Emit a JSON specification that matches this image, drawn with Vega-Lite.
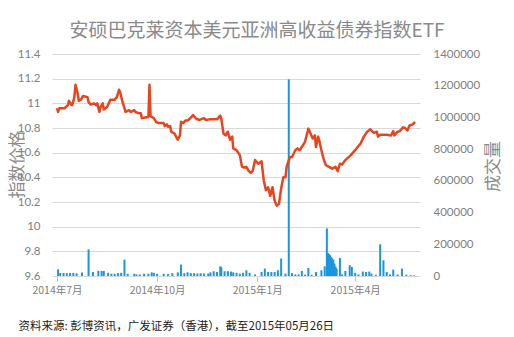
{
  "$schema": "https://vega.github.io/schema/vega-lite/v6.json",
  "width": 368,
  "height": 222,
  "autosize": {"type": "none"},
  "padding": {"left": 52, "top": 54, "right": 94, "bottom": 61},
  "background": "white",
  "config": {"view": {"stroke": null}},
  "title": {
    "text": "安硕巴克莱资本美元亚洲高收益债券指数ETF",
    "font": "Noto Sans CJK SC",
    "fontSize": 19,
    "fontWeight": "normal",
    "color": "#8a8a8a",
    "anchor": "middle",
    "baseline": "middle",
    "offset": -2,
    "dx": 21
  },
  "datasets": {
    "price": [
      {"date": "2014-07-01", "price": 10.96}, {"date": "2014-07-02", "price": 10.93}, {"date": "2014-07-03", "price": 10.96},
      {"date": "2014-07-08", "price": 10.96}, {"date": "2014-07-11", "price": 10.985}, {"date": "2014-07-12", "price": 11.02},
      {"date": "2014-07-14", "price": 10.99}, {"date": "2014-07-15", "price": 10.985}, {"date": "2014-07-17", "price": 11.05},
      {"date": "2014-07-18", "price": 11.15}, {"date": "2014-07-20", "price": 11.08}, {"date": "2014-07-21", "price": 11.02},
      {"date": "2014-07-23", "price": 11.03}, {"date": "2014-07-25", "price": 11.06}, {"date": "2014-07-29", "price": 11.05},
      {"date": "2014-07-30", "price": 11.01}, {"date": "2014-08-01", "price": 10.99}, {"date": "2014-08-04", "price": 11.0},
      {"date": "2014-08-06", "price": 10.985}, {"date": "2014-08-07", "price": 11.0}, {"date": "2014-08-09", "price": 10.93},
      {"date": "2014-08-10", "price": 10.97}, {"date": "2014-08-12", "price": 11.0}, {"date": "2014-08-13", "price": 10.95},
      {"date": "2014-08-16", "price": 10.97}, {"date": "2014-08-19", "price": 11.03}, {"date": "2014-08-23", "price": 11.03},
      {"date": "2014-08-25", "price": 11.05}, {"date": "2014-08-27", "price": 11.11}, {"date": "2014-08-28", "price": 11.09},
      {"date": "2014-08-30", "price": 11.02}, {"date": "2014-09-01", "price": 10.96}, {"date": "2014-09-02", "price": 10.93},
      {"date": "2014-09-05", "price": 10.945}, {"date": "2014-09-07", "price": 10.93}, {"date": "2014-09-10", "price": 10.945},
      {"date": "2014-09-11", "price": 10.93}, {"date": "2014-09-14", "price": 10.92}, {"date": "2014-09-16", "price": 10.92},
      {"date": "2014-09-17", "price": 10.88}, {"date": "2014-09-20", "price": 10.885}, {"date": "2014-09-23", "price": 10.89},
      {"date": "2014-09-24", "price": 11.15}, {"date": "2014-09-25", "price": 10.895}, {"date": "2014-09-28", "price": 10.88},
      {"date": "2014-09-30", "price": 10.85}, {"date": "2014-10-02", "price": 10.84}, {"date": "2014-10-07", "price": 10.84},
      {"date": "2014-10-08", "price": 10.815}, {"date": "2014-10-10", "price": 10.83}, {"date": "2014-10-11", "price": 10.81},
      {"date": "2014-10-13", "price": 10.815}, {"date": "2014-10-14", "price": 10.77}, {"date": "2014-10-17", "price": 10.755},
      {"date": "2014-10-19", "price": 10.72}, {"date": "2014-10-20", "price": 10.705}, {"date": "2014-10-22", "price": 10.74},
      {"date": "2014-10-23", "price": 10.85}, {"date": "2014-10-25", "price": 10.84}, {"date": "2014-10-27", "price": 10.86},
      {"date": "2014-10-29", "price": 10.86}, {"date": "2014-10-31", "price": 10.875}, {"date": "2014-11-03", "price": 10.905},
      {"date": "2014-11-06", "price": 10.875}, {"date": "2014-11-09", "price": 10.865}, {"date": "2014-11-10", "price": 10.87},
      {"date": "2014-11-13", "price": 10.88}, {"date": "2014-11-15", "price": 10.865}, {"date": "2014-11-18", "price": 10.87},
      {"date": "2014-11-25", "price": 10.87}, {"date": "2014-11-28", "price": 10.9}, {"date": "2014-11-29", "price": 10.875},
      {"date": "2014-12-01", "price": 10.755}, {"date": "2014-12-03", "price": 10.74}, {"date": "2014-12-05", "price": 10.77},
      {"date": "2014-12-07", "price": 10.705}, {"date": "2014-12-09", "price": 10.73}, {"date": "2014-12-10", "price": 10.635},
      {"date": "2014-12-13", "price": 10.62}, {"date": "2014-12-16", "price": 10.58}, {"date": "2014-12-18", "price": 10.485},
      {"date": "2014-12-20", "price": 10.48}, {"date": "2014-12-22", "price": 10.485}, {"date": "2014-12-24", "price": 10.455},
      {"date": "2014-12-26", "price": 10.435}, {"date": "2014-12-28", "price": 10.455}, {"date": "2014-12-30", "price": 10.54},
      {"date": "2015-01-02", "price": 10.51}, {"date": "2015-01-05", "price": 10.53}, {"date": "2015-01-07", "price": 10.375},
      {"date": "2015-01-09", "price": 10.295}, {"date": "2015-01-11", "price": 10.32}, {"date": "2015-01-13", "price": 10.25},
      {"date": "2015-01-15", "price": 10.32}, {"date": "2015-01-17", "price": 10.21}, {"date": "2015-01-19", "price": 10.17},
      {"date": "2015-01-21", "price": 10.185}, {"date": "2015-01-23", "price": 10.31}, {"date": "2015-01-25", "price": 10.4},
      {"date": "2015-01-27", "price": 10.4}, {"date": "2015-01-28", "price": 10.485}, {"date": "2015-01-31", "price": 10.565},
      {"date": "2015-02-02", "price": 10.565}, {"date": "2015-02-05", "price": 10.62}, {"date": "2015-02-07", "price": 10.635},
      {"date": "2015-02-09", "price": 10.62}, {"date": "2015-02-12", "price": 10.66}, {"date": "2015-02-14", "price": 10.69},
      {"date": "2015-02-17", "price": 10.795}, {"date": "2015-02-19", "price": 10.755}, {"date": "2015-02-21", "price": 10.715},
      {"date": "2015-02-23", "price": 10.74}, {"date": "2015-02-24", "price": 10.645}, {"date": "2015-02-26", "price": 10.73},
      {"date": "2015-02-27", "price": 10.7}, {"date": "2015-03-01", "price": 10.62}, {"date": "2015-03-03", "price": 10.55},
      {"date": "2015-03-05", "price": 10.5}, {"date": "2015-03-08", "price": 10.485}, {"date": "2015-03-11", "price": 10.47},
      {"date": "2015-03-14", "price": 10.485}, {"date": "2015-03-16", "price": 10.45}, {"date": "2015-03-18", "price": 10.51},
      {"date": "2015-03-20", "price": 10.505}, {"date": "2015-03-23", "price": 10.54}, {"date": "2015-03-28", "price": 10.58},
      {"date": "2015-04-01", "price": 10.62}, {"date": "2015-04-06", "price": 10.675}, {"date": "2015-04-09", "price": 10.73},
      {"date": "2015-04-12", "price": 10.77}, {"date": "2015-04-15", "price": 10.79}, {"date": "2015-04-18", "price": 10.76},
      {"date": "2015-04-21", "price": 10.77}, {"date": "2015-04-22", "price": 10.73}, {"date": "2015-04-24", "price": 10.745},
      {"date": "2015-04-30", "price": 10.745}, {"date": "2015-05-04", "price": 10.74}, {"date": "2015-05-06", "price": 10.775},
      {"date": "2015-05-07", "price": 10.74}, {"date": "2015-05-10", "price": 10.77}, {"date": "2015-05-12", "price": 10.775},
      {"date": "2015-05-15", "price": 10.805}, {"date": "2015-05-17", "price": 10.8}, {"date": "2015-05-19", "price": 10.78},
      {"date": "2015-05-21", "price": 10.82}, {"date": "2015-05-24", "price": 10.83}, {"date": "2015-05-26", "price": 10.85}
    ],
    "volume": [
      {"date": "2014-07-02", "volume": 42000}, {"date": "2014-07-04", "volume": 19000}, {"date": "2014-07-07", "volume": 19000},
      {"date": "2014-07-10", "volume": 18000}, {"date": "2014-07-13", "volume": 19000}, {"date": "2014-07-16", "volume": 20000},
      {"date": "2014-07-19", "volume": 17000}, {"date": "2014-07-24", "volume": 22000}, {"date": "2014-07-30", "volume": 168000},
      {"date": "2014-08-03", "volume": 25000}, {"date": "2014-08-08", "volume": 32000}, {"date": "2014-08-11", "volume": 32000},
      {"date": "2014-08-13", "volume": 32000}, {"date": "2014-08-17", "volume": 20000}, {"date": "2014-08-20", "volume": 14000},
      {"date": "2014-08-23", "volume": 14000}, {"date": "2014-08-26", "volume": 18000}, {"date": "2014-08-29", "volume": 20000},
      {"date": "2014-09-01", "volume": 103000}, {"date": "2014-09-04", "volume": 14000}, {"date": "2014-09-10", "volume": 14000},
      {"date": "2014-09-12", "volume": 10000}, {"date": "2014-09-15", "volume": 10000}, {"date": "2014-09-19", "volume": 14000},
      {"date": "2014-09-23", "volume": 14000}, {"date": "2014-09-26", "volume": 23000}, {"date": "2014-09-28", "volume": 20000},
      {"date": "2014-10-01", "volume": 14000}, {"date": "2014-10-07", "volume": 14000}, {"date": "2014-10-11", "volume": 12000},
      {"date": "2014-10-15", "volume": 18000}, {"date": "2014-10-20", "volume": 23000}, {"date": "2014-10-23", "volume": 72000},
      {"date": "2014-10-26", "volume": 18000}, {"date": "2014-10-29", "volume": 23000}, {"date": "2014-11-01", "volume": 18000},
      {"date": "2014-11-04", "volume": 18000}, {"date": "2014-11-07", "volume": 16000}, {"date": "2014-11-10", "volume": 18000},
      {"date": "2014-11-13", "volume": 16000}, {"date": "2014-11-17", "volume": 16000}, {"date": "2014-11-19", "volume": 23000},
      {"date": "2014-11-22", "volume": 30000}, {"date": "2014-11-25", "volume": 25000}, {"date": "2014-11-28", "volume": 61000},
      {"date": "2014-11-29", "volume": 55000}, {"date": "2014-12-02", "volume": 30000}, {"date": "2014-12-05", "volume": 30000},
      {"date": "2014-12-08", "volume": 28000}, {"date": "2014-12-10", "volume": 23000}, {"date": "2014-12-13", "volume": 20000},
      {"date": "2014-12-16", "volume": 15000}, {"date": "2014-12-19", "volume": 20000}, {"date": "2014-12-22", "volume": 36000},
      {"date": "2014-12-25", "volume": 20000}, {"date": "2014-12-30", "volume": 10000}, {"date": "2015-01-05", "volume": 25000},
      {"date": "2015-01-08", "volume": 47000}, {"date": "2015-01-11", "volume": 25000}, {"date": "2015-01-14", "volume": 25000},
      {"date": "2015-01-17", "volume": 25000}, {"date": "2015-01-20", "volume": 36000}, {"date": "2015-01-23", "volume": 110000},
      {"date": "2015-01-27", "volume": 15000}, {"date": "2015-01-30", "volume": 1240000}, {"date": "2015-02-02", "volume": 18000},
      {"date": "2015-02-05", "volume": 10000}, {"date": "2015-02-08", "volume": 10000}, {"date": "2015-02-11", "volume": 32000},
      {"date": "2015-02-14", "volume": 8000}, {"date": "2015-02-17", "volume": 51000}, {"date": "2015-02-20", "volume": 8000},
      {"date": "2015-02-24", "volume": 25000}, {"date": "2015-03-01", "volume": 36000}, {"date": "2015-03-04", "volume": 61000},
      {"date": "2015-03-06", "volume": 300000}, {"date": "2015-03-07", "volume": 145000}, {"date": "2015-03-08", "volume": 138000},
      {"date": "2015-03-09", "volume": 131000}, {"date": "2015-03-10", "volume": 120000}, {"date": "2015-03-11", "volume": 110000},
      {"date": "2015-03-12", "volume": 103000}, {"date": "2015-03-13", "volume": 78000}, {"date": "2015-03-14", "volume": 60000},
      {"date": "2015-03-15", "volume": 47000}, {"date": "2015-03-18", "volume": 114000}, {"date": "2015-03-20", "volume": 10000},
      {"date": "2015-03-23", "volume": 32000}, {"date": "2015-03-27", "volume": 68000}, {"date": "2015-03-29", "volume": 57000},
      {"date": "2015-04-01", "volume": 20000}, {"date": "2015-04-04", "volume": 10000}, {"date": "2015-04-08", "volume": 28000},
      {"date": "2015-04-11", "volume": 25000}, {"date": "2015-04-14", "volume": 28000}, {"date": "2015-04-16", "volume": 15000},
      {"date": "2015-04-20", "volume": 8000}, {"date": "2015-04-24", "volume": 200000}, {"date": "2015-04-27", "volume": 99000},
      {"date": "2015-04-30", "volume": 25000}, {"date": "2015-05-03", "volume": 10000}, {"date": "2015-05-06", "volume": 40000},
      {"date": "2015-05-10", "volume": 10000}, {"date": "2015-05-14", "volume": 47000}, {"date": "2015-05-18", "volume": 8000},
      {"date": "2015-05-22", "volume": 5000}, {"date": "2015-05-25", "volume": 4000}
    ]
  },
  "layer": [
    {
      "data": {"name": "volume", "format": {"parse": {"date": "date:'%Y-%m-%d'"}}},
      "mark": {"type": "bar", "color": "#1a96e0", "width": 2},
      "encoding": {
        "x": {
          "field": "date",
          "type": "temporal",
          "scale": {"domain": [{"year": 2014, "month": 7, "date": 1}, {"year": 2015, "month": 5, "date": 26}]},
          "axis": {
            "values": [{"year": 2014, "month": 7, "date": 1}, {"year": 2014, "month": 10, "date": 1}, {"year": 2015, "month": 1, "date": 1}, {"year": 2015, "month": 4, "date": 1}],
            "format": "%Y年%-m月",
            "labelFont": "Noto Sans CJK SC",
            "labelFontSize": 10.5,
            "labelColor": "#808080",
            "labelPadding": 4,
            "labelFlush": false,
            "labelOverlap": false,
            "grid": false,
            "domainColor": "#d9d9d9",
            "tickColor": "#bfbfbf",
            "tickSize": 5,
            "title": "资料来源: 彭博资讯，广发证券（香港），截至2015年05月26日",
            "titleFont": "Noto Sans CJK SC",
            "titleFontSize": 11.5,
            "titleFontWeight": "normal",
            "titleColor": "#1a1a1a",
            "titleAnchor": "start",
            "titleAlign": "left",
            "titleBaseline": "middle",
            "titleX": -34,
            "titleY": 50
          }
        },
        "y": {
          "field": "volume",
          "type": "quantitative",
          "scale": {"domain": [0, 1400000], "nice": false},
          "axis": {
            "orient": "right",
            "values": [0, 200000, 400000, 600000, 800000, 1000000, 1200000, 1400000],
            "format": "d",
            "grid": false,
            "domain": false,
            "ticks": false,
            "labelFont": "Lato",
            "labelFontSize": 11.5,
            "labelColor": "#808080",
            "labelPadding": 13,
            "title": "成交量",
            "titleFont": "Noto Sans CJK SC",
            "titleFontSize": 17,
            "titleFontWeight": "normal",
            "titleColor": "#8a8a8a",
            "titleAngle": 270,
            "titleAlign": "center",
            "titleBaseline": "middle",
            "titleX": 73,
            "titleY": 112
          }
        }
      }
    },
    {
      "data": {"name": "price", "format": {"parse": {"date": "date:'%Y-%m-%d'"}}},
      "mark": {"type": "line", "color": "#e8441d", "strokeWidth": 2.5, "strokeJoin": "round"},
      "encoding": {
        "x": {"field": "date", "type": "temporal"},
        "y": {
          "field": "price",
          "type": "quantitative",
          "scale": {"domain": [9.6, 11.4], "nice": false, "zero": false},
          "axis": {
            "orient": "left",
            "values": [9.6, 9.8, 10, 10.2, 10.4, 10.6, 10.8, 11, 11.2, 11.4],
            "format": "~g",
            "grid": true,
            "gridColor": "#d9d9d9",
            "domain": false,
            "ticks": false,
            "labelFont": "Lato",
            "labelFontSize": 11.5,
            "labelColor": "#808080",
            "labelPadding": 12,
            "title": "指数价格",
            "titleFont": "Noto Sans CJK SC",
            "titleFontSize": 17,
            "titleFontWeight": "normal",
            "titleColor": "#8a8a8a",
            "titleAngle": 270,
            "titleAlign": "center",
            "titleBaseline": "middle",
            "titleX": -35,
            "titleY": 110
          }
        }
      }
    }
  ],
  "resolve": {"scale": {"y": "independent"}}
}
